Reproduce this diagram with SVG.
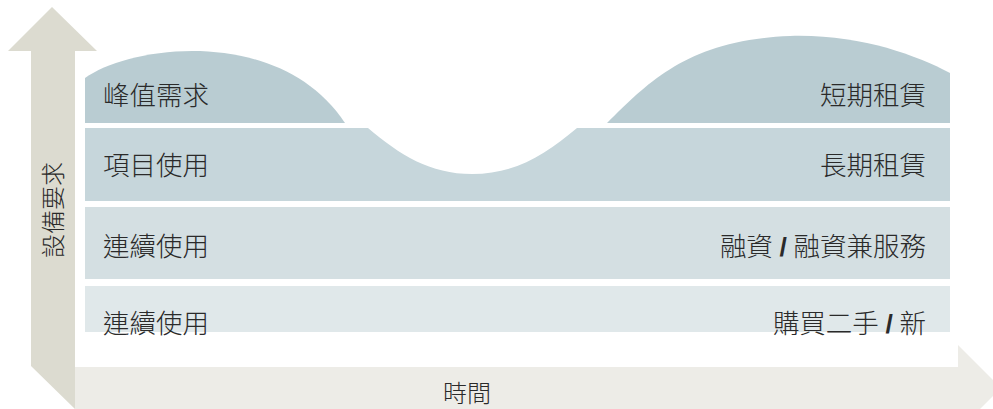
<svg xmlns="http://www.w3.org/2000/svg" width="993" height="409" viewBox="0 0 993 409">
<style>
.lbl{font-family:"Liberation Serif","Noto Sans CJK TC","Noto Sans CJK SC",serif;font-size:26.5px;font-weight:300;fill:#2a2a2a}
.ax{font-family:"Liberation Serif","Noto Sans CJK TC","Noto Sans CJK SC",serif;font-size:24px;font-weight:300;fill:#2a2a2a}
.r{text-anchor:end}
.sl{font-family:"Liberation Sans",sans-serif;font-weight:bold}
</style>
<rect width="993" height="409" fill="#ffffff"/>
<g id="axes">
<polygon id="y-axis" points="52,7 97,51 75,51 75,409 31,366 31,51 8,51" fill="#dcdbd0"/>
<polygon id="x-axis" points="75,367 958,367 958,345 1001,388 958,431 958,409 75,409" fill="#edece7"/>
<text class="ax" text-anchor="middle" transform="translate(62,210) rotate(-90)">設備要求</text>
<text class="ax" x="467" y="402" text-anchor="middle">時間</text>
</g>
<g id="peak">
<path d="M85,123 V78 C130,45 280,25 345,123 Z" fill="#b9ccd2"/>
<path d="M607,123 C650,80 690,40 790,36 C860,34 915,55 950,73 V123 Z" fill="#b9ccd2"/>
<text class="lbl" x="103" y="105">峰值需求</text>
<text class="lbl r" x="926" y="105">短期租賃</text>
</g>
<g id="project">
<path d="M85,128 H368 C400,155 430,174 472,174 C515,174 545,155 577,128 H950 V201 H85 Z" fill="#c6d6db"/>
<text class="lbl" x="103" y="175">項目使用</text>
<text class="lbl r" x="926" y="175">長期租賃</text>
</g>
<g id="continuous1">
<rect x="85" y="207" width="865" height="72" fill="#d4dfe2"/>
<text class="lbl" x="103" y="256">連續使用</text>
<text class="lbl r" x="926" y="256">融資 <tspan class="sl">/</tspan> 融資兼服務</text>
</g>
<g id="continuous2">
<rect x="85" y="286" width="865" height="46" fill="#e0e8ea"/>
<text class="lbl" x="103" y="333">連續使用</text>
<text class="lbl r" x="926" y="333">購買二手 <tspan class="sl">/</tspan> 新</text>
</g>
<g id="connectors"/>
</svg>
